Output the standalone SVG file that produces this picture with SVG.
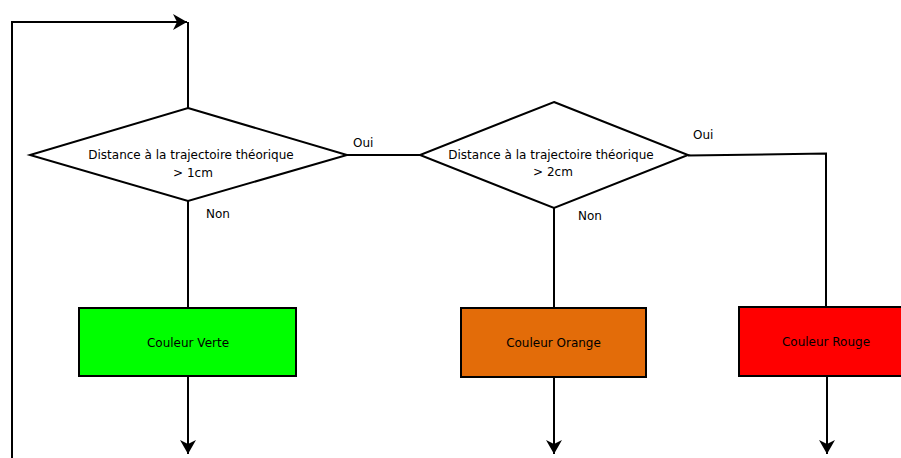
<svg xmlns="http://www.w3.org/2000/svg" width="901" height="458" viewBox="0 0 901 458">
<defs>
<style>
.shape{stroke:#000;stroke-width:2;}
.diamond{fill:#fff;}
.conn{fill:none;stroke:#000;stroke-width:2;}
text{font-family:"DejaVu Sans","Liberation Sans",sans-serif;font-size:12px;fill:#000;}
.c{text-anchor:middle;}
</style>
<marker id="arr" markerUnits="userSpaceOnUse" markerWidth="20" markerHeight="20" viewBox="-16 -10 20 20" refX="0" refY="0" orient="auto">
<path d="M-14,-8 L0,0 L-14,8 L-10,0 Z" fill="#000"/>
</marker>
</defs>
<rect width="901" height="458" fill="#fff"/>
<g id="connectors">
<path class="conn" d="M12,458 L12,22 L187,22" marker-end="url(#arr)"/>
<path class="conn" d="M188,22 L188,108"/>
<path class="conn" d="M347,155 L420,155"/>
<path class="conn" d="M688,155.5 L826,153.5 L826,307"/>
<path class="conn" d="M188,201 L188,308"/>
<path class="conn" d="M554,208 L554,308"/>
<path class="conn" d="M188,376 L188,454" marker-end="url(#arr)"/>
<path class="conn" d="M554,377 L554,454" marker-end="url(#arr)"/>
<path class="conn" d="M827,376 L827,454" marker-end="url(#arr)"/>
<text x="353" y="147">Oui</text>
<text x="693" y="139">Oui</text>
<text x="206" y="218">Non</text>
<text x="578" y="220">Non</text>
</g>
<g id="decision1">
<polygon class="shape diamond" points="188,108 347,155 188,201 30,155"/>
<text class="c" x="191" y="158.5">Distance à la trajectoire théorique</text>
<text class="c" x="193" y="177">&gt; 1cm</text>
</g>
<g id="decision2">
<polygon class="shape diamond" points="554,102 688,155 554,208 420,155"/>
<text class="c" x="551" y="158.5">Distance à la trajectoire théorique</text>
<text class="c" x="553" y="176">&gt; 2cm</text>
</g>
<g id="verte">
<rect class="shape" x="79" y="308" width="217" height="68" fill="#00ff00"/>
<text class="c" x="188" y="347">Couleur Verte</text>
</g>
<g id="orange">
<rect class="shape" x="461" y="308" width="185" height="69" fill="#e36c09"/>
<text class="c" x="553.5" y="347">Couleur Orange</text>
</g>
<g id="rouge">
<rect class="shape" x="739" y="307" width="176" height="69" fill="#ff0000"/>
<text class="c" x="826" y="346">Couleur Rouge</text>
</g>
</svg>
